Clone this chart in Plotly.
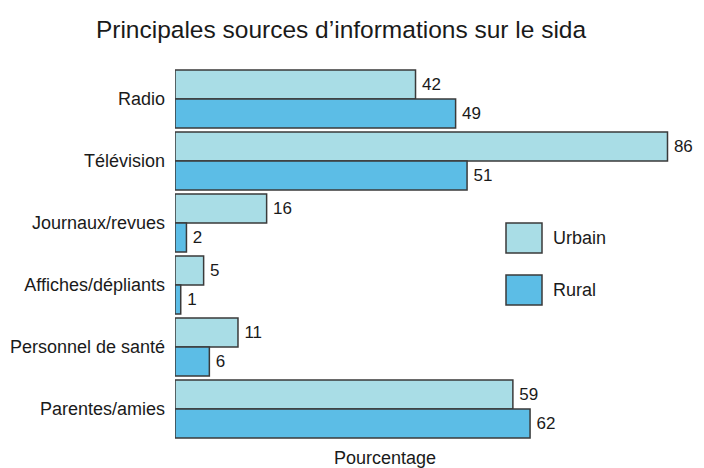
import plotly.graph_objects as go

categories = ["Radio", "Télévision", "Journaux/revues", "Affiches/dépliants",
              "Personnel de santé", "Parentes/amies"]
urbain = [42, 86, 16, 5, 11, 59]
rural = [49, 51, 2, 1, 6, 62]
series_names = ["Urbain", "Rural"]
colors = ["#a9dde6", "#5cbde6"]
title = "Principales sources d\u2019informations sur le sida"
x_title = "Pourcentage"

FONT = "Liberation Sans, Arial, sans-serif"

# page body has an 8px margin; figure sized to fill the rest of the window
W, H = 696, 460
PL, PT, PW, PH = 167, 60, 524, 372  # plot area in figure pixels

fig = go.Figure()
for name, vals, col in zip(series_names, [urbain, rural], colors):
    fig.add_trace(go.Bar(
        y=categories, x=vals, orientation="h", name=name,
        marker=dict(color=col, line=dict(color="#3a3a3a", width=1.5)),
        text=vals, texttemplate="\u2009%{x}", textposition="outside", cliponaxis=False,
        textfont=dict(family=FONT, size=17, color="#1a1a1a"),
        showlegend=False,
    ))

fig.update_layout(
    width=W, height=H,
    margin=dict(l=PL, r=W - PL - PW, t=PT, b=H - PT - PH, autoexpand=False),
    paper_bgcolor="white", plot_bgcolor="white",
    barmode="group", bargap=0.065, bargroupgap=0,
    font=dict(family=FONT, size=18, color="#1a1a1a"),
    title=dict(text=title, x=333 / W, xanchor="center", y=1 - 21 / H, yanchor="middle",
               font=dict(family=FONT, size=24.5, color="#1a1a1a")),
    xaxis=dict(range=[0, 91.5], visible=False),
    yaxis=dict(autorange="reversed", showline=False, showgrid=False,
               ticks="", tickfont=dict(family=FONT, size=18, color="#1a1a1a"),
               ticklabelstandoff=9, automargin=False),
)

# legend drawn manually (screen coords of reference, converted to paper)
def px(x):
    return (x - 175) / PW

def py(y):
    return (440 - y) / PH

legend_y = [238, 290]
for name, col, yc in zip(series_names, colors, legend_y):
    fig.add_shape(type="rect", xref="paper", yref="paper",
                  x0=px(506), x1=px(542), y0=py(yc + 15), y1=py(yc - 15),
                  fillcolor=col, line=dict(color="#3a3a3a", width=1.5))
    fig.add_annotation(text=name, xref="paper", yref="paper",
                       x=px(551), y=py(yc),
                       xanchor="left", yanchor="middle", showarrow=False,
                       font=dict(family=FONT, size=18, color="#1a1a1a"))

fig.add_annotation(text=x_title, xref="paper", yref="paper",
                   x=px(385), y=py(458),
                   xanchor="center", yanchor="middle", showarrow=False,
                   font=dict(family=FONT, size=18, color="#1a1a1a"))

fig.write_html("out.html")
